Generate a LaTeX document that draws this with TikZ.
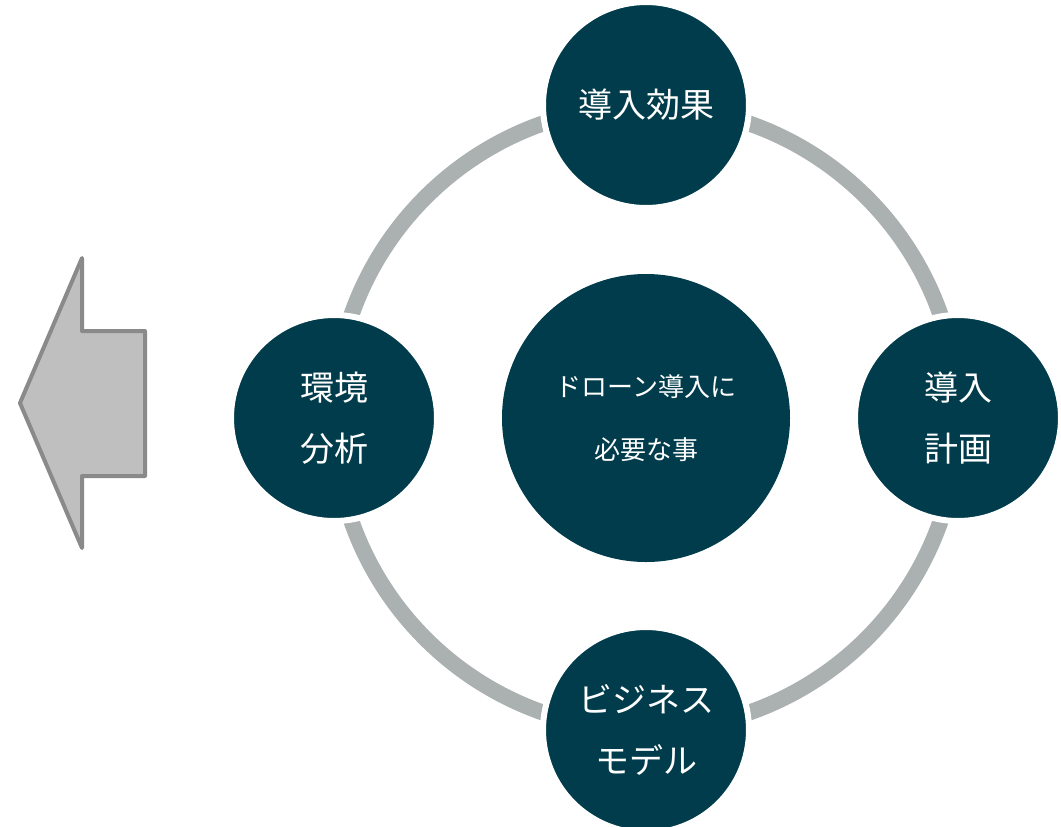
\documentclass[tikz,border=0pt]{standalone}
\usepackage{fontspec}
\usepackage{tikz}
\newfontfamily\jpfont{Noto Sans CJK JP}
\definecolor{nodeteal}{RGB}{0,60,75}
\definecolor{ringgray}{RGB}{171,176,177}
\definecolor{arrowfill}{RGB}{190,191,190}
\definecolor{arrowline}{RGB}{138,138,138}

\begin{document}
\begin{tikzpicture}[x=0.75pt, y=-0.75pt]
\useasboundingbox (0,0) rectangle (1061,826);
\tikzset{
  ring/.style={draw=ringgray, line width=12pt},
  topic/.style={circle, fill=nodeteal, draw=white, line width=4.5pt, minimum size=154.5pt, inner sep=0pt, align=center, text=white, font={\jpfont\fontsize{25.5pt}{46pt}\selectfont}},
  core/.style={circle, fill=nodeteal, minimum size=216pt, inner sep=0pt, align=center, text=white, font={\jpfont\fontsize{19.5pt}{47pt}\selectfont}}
}
\node[core] (hub) at (646,418) {ドローン導入に\\必要な事};
\draw[ring] (hub.center) circle[radius=234pt];
\node[topic] (effect) at (646,105) {導入効果};
\node[topic] (plan) at (958,418) {導入\\計画};
\node[topic] (model) at (646,730) {ビジネス\\モデル};
\node[topic] (env) at (334,418) {環境\\分析};
% arrow pointing left
\draw[fill=arrowfill, draw=arrowline, line width=3pt, line join=round]
  (20,403) -- (82,258) -- (82,331) -- (145,331) -- (145,476) -- (82,476) -- (82,548) -- cycle;
\end{tikzpicture}
\end{document}
